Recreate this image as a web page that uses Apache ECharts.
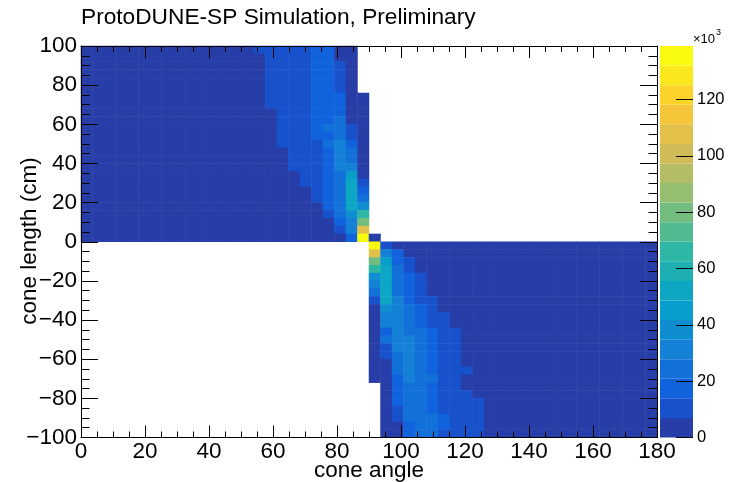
<!DOCTYPE html>
<html><head><meta charset="utf-8">
<script src="https://cdn.jsdelivr.net/npm/echarts@6/dist/echarts.min.js"></script>
<style>html,body{margin:0;padding:0;background:#fff}#c{width:736px;height:482px}</style>
</head><body><div id="c"></div><script>
// ---------------- data ----------------
const titleText = 'ProtoDUNE-SP Simulation, Preliminary';
const xTitle = 'cone angle';
const yTitle = 'cone length (cm)';
const zExponent = '\u00d710';
const xTicks = [0, 20, 40, 60, 80, 100, 120, 140, 160, 180];
const yTicks = [-100, -80, -60, -40, -20, 0, 20, 40, 60, 80, 100];
const zTicks = [0, 20, 40, 60, 80, 100, 120];
const zMax = 139;          // colour scale maximum (x10^3 entries)
const nBands = 20;         // number of colour contours
const nX = 50, xMin = 0, xMax = 180;     // angle bins of 3.6 deg
const nY = 50, yMin = -100, yMax = 100;  // length bins of 4 cm

// Upper half: rows from y = 96..100 down to y = 0..4; values (x10^3) start at angle bin 0
const upperRows = [
 [0.9,0.9,1.0,1.0,1.1,1.1,1.2,1.3,1.4,1.5,1.7,1.9,2.2,2.7,3.5,8.3,10.4,11.2,11.9,12.6,15.8,14.6,5.4,3.0],
 [0.9,1.0,1.0,1.0,1.1,1.2,1.2,1.3,1.4,1.6,1.7,2.0,2.3,2.7,3.3,4.4,10.1,11.0,11.7,12.4,16.3,15.5,5.8,2.9],
 [1.0,1.0,1.0,1.1,1.1,1.2,1.3,1.3,1.4,1.6,1.8,2.0,2.3,2.8,3.4,4.6,10.3,11.1,11.8,12.5,16.8,15.9,9.6,3.2],
 [1.0,1.0,1.1,1.1,1.2,1.2,1.3,1.4,1.5,1.6,1.8,2.0,2.4,2.8,3.5,4.8,10.5,11.2,11.9,12.7,17.0,16.2,10.8,3.4],
 [1.0,1.0,1.1,1.1,1.2,1.3,1.3,1.4,1.5,1.7,1.9,2.1,2.4,2.9,3.6,5.0,10.6,11.3,12.1,12.9,17.2,16.6,11.4,3.6],
 [1.0,1.1,1.1,1.2,1.2,1.3,1.4,1.5,1.6,1.7,1.9,2.1,2.5,3.0,3.7,5.2,10.8,11.5,12.2,13.0,17.5,16.9,12.2,3.8],
 [1.0,1.1,1.1,1.2,1.2,1.3,1.4,1.5,1.6,1.7,1.9,2.2,2.5,3.0,3.8,5.4,11.0,11.6,12.4,13.2,17.7,17.4,14.8,4.0,1.9],
 [1.1,1.1,1.2,1.2,1.3,1.3,1.4,1.5,1.6,1.8,2.0,2.2,2.6,3.1,3.9,5.7,7.8,11.8,12.6,13.4,18.0,17.8,15.6,4.3,2.0],
 [1.1,1.1,1.2,1.2,1.3,1.4,1.4,1.5,1.7,1.8,2.0,2.3,2.6,3.2,4.0,5.0,6.1,11.9,12.7,13.5,18.2,18.3,16.4,4.6,2.1],
 [1.1,1.2,1.2,1.3,1.3,1.4,1.5,1.6,1.7,1.9,2.1,2.3,2.7,3.2,4.0,5.0,6.3,12.0,12.8,13.6,18.5,19.6,22.4,5.3,2.2],
 [1.1,1.2,1.2,1.3,1.4,1.4,1.5,1.6,1.8,1.9,2.1,2.4,2.7,3.3,4.1,5.1,6.4,12.1,12.9,13.7,18.8,21.6,24.0,8.1,2.3],
 [1.2,1.2,1.3,1.3,1.4,1.5,1.6,1.7,1.8,2.0,2.2,2.4,2.8,3.3,4.1,5.2,6.5,12.2,13.0,13.8,17.9,20.3,25.1,9.4,2.5],
 [1.2,1.2,1.3,1.4,1.4,1.5,1.6,1.7,1.8,2.0,2.2,2.5,2.8,3.4,4.2,5.3,6.6,9.5,12.6,13.3,13.6,22.3,29.5,16.8,2.7],
 [1.2,1.3,1.3,1.4,1.5,1.5,1.6,1.7,1.9,2.0,2.2,2.5,2.9,3.4,4.2,5.1,5.9,6.5,11.8,12.9,13.4,19.4,30.8,22.9,2.9],
 [1.2,1.3,1.4,1.4,1.5,1.6,1.6,1.7,1.9,2.0,2.3,2.5,2.9,3.5,4.3,5.2,6.0,6.6,12.0,13.0,13.5,19.8,31.6,24.6,3.1],
 [1.3,1.3,1.4,1.5,1.5,1.6,1.7,1.8,1.9,2.1,2.3,2.6,3.0,3.5,4.3,5.2,6.1,6.7,8.9,13.1,13.6,20.1,32.0,30.4,3.4],
 [1.3,1.4,1.4,1.5,1.6,1.6,1.7,1.8,2.0,2.1,2.3,2.6,3.0,3.6,4.4,5.3,6.1,6.6,6.8,12.4,13.4,19.0,26.5,45.2,3.9],
 [1.3,1.4,1.5,1.5,1.6,1.7,1.8,1.9,2.0,2.2,2.4,2.7,3.1,3.6,4.4,5.3,6.1,6.6,6.9,10.2,13.2,18.6,25.7,51.8,9.8],
 [1.4,1.4,1.5,1.6,1.6,1.7,1.8,1.9,2.1,2.2,2.4,2.7,3.1,3.7,4.5,5.4,6.1,6.6,6.8,6.9,12.8,18.2,25.0,53.4,17.5],
 [1.4,1.5,1.5,1.6,1.7,1.8,1.8,2.0,2.1,2.3,2.5,2.8,3.2,3.7,4.5,5.4,6.1,6.6,6.8,6.9,10.9,17.6,24.4,53.9,25.6],
 [1.4,1.5,1.6,1.6,1.7,1.8,1.9,2.0,2.2,2.3,2.5,2.8,3.2,3.8,4.6,5.4,6.1,6.5,6.7,6.8,6.9,15.8,23.7,52.6,38.9],
 [1.5,1.5,1.6,1.7,1.8,1.8,1.9,2.1,2.2,2.4,2.6,2.9,3.3,3.8,4.6,5.5,6.1,6.5,6.7,6.8,6.9,10.1,22.6,39.0,66.2],
 [1.5,1.6,1.6,1.7,1.8,1.9,2.0,2.1,2.3,2.4,2.6,2.9,3.3,3.9,4.7,5.5,6.1,6.5,6.7,6.8,6.9,6.9,16.4,31.2,80.1],
 [1.5,1.6,1.7,1.8,1.8,1.9,2.0,2.2,2.3,2.5,2.7,3.0,3.4,3.9,4.7,5.5,6.1,6.5,6.7,6.8,6.9,6.9,10.7,29.4,108.0],
 [1.6,1.6,1.7,1.8,1.9,2.0,2.1,2.2,2.4,2.5,2.7,3.0,3.4,4.0,4.8,5.6,6.1,6.5,6.7,6.8,6.9,6.9,6.9,16.9,139.0,5.2]
];
// Lower half: rows from y = -4..0 down to y = -100..-96; values (x10^3) end at angle bin 49
const lowerRows = [
 [134.5,10.2,5.8,4.9,4.2,3.6,3.1,2.7,2.4,2.2,2.0,1.8,1.7,1.6,1.5,1.4,1.3,1.3,1.2,1.2,1.1,1.1,1.0,1.0,1.0],
 [107.6,31.0,15.3,6.2,5.2,4.4,3.8,3.3,2.9,2.5,2.3,2.1,1.9,1.8,1.7,1.6,1.5,1.4,1.3,1.3,1.2,1.2,1.1,1.1,1.0],
 [79.8,45.6,18.1,9.9,6.4,5.4,4.6,3.9,3.4,3.0,2.6,2.4,2.2,2.0,1.9,1.7,1.6,1.5,1.4,1.4,1.3,1.2,1.2,1.1,1.1],
 [66.4,52.1,22.8,11.7,6.6,5.6,4.8,4.1,3.6,3.1,2.7,2.5,2.2,2.0,1.9,1.8,1.7,1.6,1.5,1.4,1.3,1.3,1.2,1.2,1.1],
 [38.3,53.2,24.6,16.2,10.4,6.5,5.6,4.8,4.1,3.5,3.1,2.7,2.4,2.2,2.0,1.9,1.8,1.7,1.6,1.5,1.4,1.3,1.3,1.2,1.2],
 [31.2,53.6,25.4,17.4,11.2,6.6,5.7,4.9,4.2,3.6,3.1,2.8,2.5,2.3,2.1,1.9,1.8,1.7,1.6,1.5,1.4,1.4,1.3,1.2,1.2],
 [24.7,53.0,26.0,18.3,11.8,6.7,5.8,5.0,4.3,3.7,3.2,2.8,2.5,2.3,2.1,2.0,1.8,1.7,1.6,1.5,1.5,1.4,1.3,1.3,1.2],
 [12.0,51.3,28.6,19.5,12.9,9.6,6.2,5.3,4.5,3.9,3.4,3.0,2.6,2.4,2.2,2.0,1.9,1.8,1.7,1.6,1.5,1.4,1.4,1.3,1.2],
 [5.6,39.8,30.5,21.9,14.4,10.7,6.4,5.5,4.7,4.0,3.5,3.1,2.7,2.4,2.2,2.1,1.9,1.8,1.7,1.6,1.5,1.5,1.4,1.3,1.3],
 [4.8,33.6,31.4,22.8,15.3,11.6,8.4,6.2,5.3,4.5,3.9,3.4,3.0,2.7,2.4,2.2,2.1,1.9,1.8,1.7,1.6,1.5,1.4,1.4,1.3],
 [4.3,31.2,32.0,23.6,15.8,12.2,9.1,6.3,5.4,4.6,4.0,3.5,3.0,2.7,2.5,2.3,2.1,2.0,1.8,1.7,1.6,1.5,1.5,1.4,1.3],
 [3.9,17.2,32.5,24.9,22.1,15.1,10.3,8.2,6.1,5.2,4.4,3.8,3.3,2.9,2.6,2.4,2.2,2.0,1.9,1.8,1.7,1.6,1.5,1.4,1.4],
 [3.6,21.3,33.1,28.4,23.5,16.0,10.9,8.8,6.2,5.3,4.5,3.9,3.4,3.0,2.7,2.4,2.2,2.1,1.9,1.8,1.7,1.6,1.5,1.5,1.4],
 [3.4,11.6,30.9,29.2,23.9,16.5,11.3,9.1,6.3,5.4,4.6,4.0,3.5,3.1,2.7,2.5,2.3,2.1,2.0,1.8,1.7,1.6,1.6,1.5,1.4],
 [3.2,9.4,26.8,30.1,24.2,16.9,11.7,9.4,6.4,5.5,4.7,4.1,3.6,3.1,2.8,2.5,2.3,2.2,2.0,1.9,1.8,1.7,1.6,1.5,1.4],
 [3.0,6.1,25.9,30.6,24.6,17.2,12.0,9.6,6.4,5.5,4.8,4.1,3.6,3.2,2.8,2.6,2.4,2.2,2.0,1.9,1.8,1.7,1.6,1.5,1.5],
 [2.9,5.6,23.4,31.0,25.0,17.5,12.3,9.9,8.6,5.6,4.8,4.2,3.7,3.2,2.9,2.6,2.4,2.2,2.1,1.9,1.8,1.7,1.6,1.6,1.5],
 [2.7,5.1,19.2,31.4,25.3,22.2,12.6,10.1,6.5,5.6,4.9,4.2,3.7,3.3,2.9,2.7,2.4,2.3,2.1,2.0,1.8,1.7,1.7,1.6,1.5],
 [4.7,18.6,27.5,25.6,19.8,12.9,10.3,6.6,5.7,4.9,4.3,3.8,3.3,3.0,2.7,2.5,2.3,2.1,2.0,1.9,1.8,1.7,1.6,1.5],
 [4.4,18.1,26.9,25.8,20.1,13.2,10.6,8.1,5.8,5.0,4.4,3.8,3.4,3.0,2.7,2.5,2.3,2.2,2.0,1.9,1.8,1.7,1.6,1.6],
 [4.2,17.5,26.2,26.1,20.4,13.5,10.8,8.9,7.6,5.1,4.5,3.9,3.4,3.1,2.8,2.5,2.4,2.2,2.1,1.9,1.8,1.7,1.7,1.6],
 [4.0,12.4,25.6,26.3,19.7,13.7,11.0,9.2,8.0,5.2,4.6,4.0,3.5,3.1,2.8,2.6,2.4,2.2,2.1,2.0,1.9,1.8,1.7,1.6],
 [3.8,10.1,24.9,26.4,22.3,14.6,11.1,9.4,8.2,5.2,4.6,4.0,3.5,3.2,2.9,2.6,2.4,2.3,2.1,2.0,1.9,1.8,1.7,1.6],
 [3.6,6.2,20.2,25.9,22.8,14.9,11.3,9.6,8.4,5.3,4.7,4.1,3.6,3.2,2.9,2.7,2.5,2.3,2.1,2.0,1.9,1.8,1.7,1.6],
 [3.5,5.8,19.4,25.1,23.0,13.2,11.5,9.7,8.5,5.3,4.7,4.1,3.6,3.2,2.9,2.7,2.5,2.3,2.2,2.0,1.9,1.8,1.7,1.6]
];

// ---------------- build ----------------
const xBinW = (xMax - xMin) / nX, yBinW = (yMax - yMin) / nY;
const xCats = Array.from({length: nX}, (_, i) => (xMin + (i + 0.5) * xBinW).toFixed(1));
const yCats = Array.from({length: nY}, (_, j) => (yMin + (j + 0.5) * yBinW).toFixed(1));
const cells = [];
upperRows.forEach((row, r) => {
  const j = nY - 1 - r;
  row.forEach((v, i) => { if (v != null) cells.push([i, j, v]); });
});
lowerRows.forEach((row, r) => {
  const j = nY / 2 - 1 - r;
  const start = nX - row.length;
  row.forEach((v, k) => { if (v != null) cells.push([start + k, j, v]); });
});

// ROOT kBird palette
const bStops = [0, 0.125, 0.25, 0.375, 0.5, 0.625, 0.75, 0.875, 1];
const bR = [0.2082, 0.0592, 0.0780, 0.0232, 0.1802, 0.5301, 0.8186, 0.9956, 0.9764];
const bG = [0.1664, 0.3599, 0.5041, 0.6419, 0.7178, 0.7492, 0.7328, 0.7862, 0.9832];
const bB = [0.5293, 0.8684, 0.8385, 0.7914, 0.6425, 0.4662, 0.3499, 0.1968, 0.0539];
function bird(t) {
  let s = 0;
  while (s < bStops.length - 2 && t > bStops[s + 1]) s++;
  const f = (t - bStops[s]) / (bStops[s + 1] - bStops[s]);
  const c = a => Math.round(255 * (a[s] + f * (a[s + 1] - a[s])));
  return 'rgb(' + c(bR) + ',' + c(bG) + ',' + c(bB) + ')';
}
const bandColors = Array.from({length: nBands}, (_, k) => bird(Math.floor((k + 0.99) * 255 / nBands) / 254));
const bandW = zMax / nBands;
const pieces = bandColors.map((col, k) => k === nBands - 1
  ? {gte: k * bandW, lte: zMax * 1.01, color: col}
  : {gte: k * bandW, lt: (k + 1) * bandW, color: col});

const FONT = 'Liberation Sans, Arial, Helvetica, sans-serif';
const G = {left: 81, top: 46, width: 576, height: 391.5};
const black = '#000';
const lab = {color: black, fontFamily: FONT, fontSize: 22.5};

function valueAxis(dim, pos, show) {
  const isX = dim === 'x';
  return {
    type: 'value', gridIndex: 1, position: pos,
    min: isX ? xMin : yMin, max: isX ? xMax : yMax, interval: 20,
    axisLine: {show: true, onZero: false, lineStyle: {color: black, width: 1}},
    axisTick: {show: true, inside: true, length: isX ? 12 : 17, lineStyle: {color: black, width: 1}},
    minorTick: {show: true, splitNumber: 4, length: isX ? 6 : 8.5, lineStyle: {color: black, width: 1}},
    splitLine: {show: false},
    axisLabel: show ? Object.assign({}, lab, {margin: isX ? 3 : 4,
      formatter: v => String(v).replace('-', '\u2212')}) : {show: false},
    z: 10
  };
}

const chart = echarts.init(document.getElementById('c'), null, {renderer: 'canvas'});
const barSeries = bandColors.map((col, k) => ({
  type: 'bar', xAxisIndex: 3, yAxisIndex: 3, stack: 'palette', barWidth: '100%',
  data: [bandW], itemStyle: {color: col}, silent: true, animation: false
}));

chart.setOption({
  animation: false,
  backgroundColor: '#fff',
  grid: [
    Object.assign({}, G),
    Object.assign({}, G),
    {left: 660, top: 46, width: 33, height: 391.5}
  ],
  xAxis: [
    {type: 'category', gridIndex: 0, data: xCats, show: false},
    valueAxis('x', 'bottom', true),
    valueAxis('x', 'top', false),
    {type: 'category', gridIndex: 2, data: ['z'], show: false}
  ],
  yAxis: [
    {type: 'category', gridIndex: 0, data: yCats, show: false},
    valueAxis('y', 'left', true),
    valueAxis('y', 'right', false),
    {type: 'value', gridIndex: 2, position: 'right', min: 0, max: zMax,
     axisLine: {show: false},
     axisTick: {show: true, inside: true, length: 17, customValues: zTicks, lineStyle: {color: black}},
     axisLabel: {color: black, fontFamily: FONT, fontSize: 16.5, margin: 4, customValues: zTicks},
     splitLine: {show: false}, z: 10}
  ],
  visualMap: {type: 'piecewise', show: false, seriesIndex: 0, dimension: 2, pieces: pieces},
  series: [{
    type: 'heatmap', xAxisIndex: 0, yAxisIndex: 0, data: cells,
    progressive: 0, emphasis: {disabled: true}, silent: true
  }].concat(barSeries),
  graphic: [
    {type: 'text', x: 81, y: 18, style: {text: titleText, font: '22.7px ' + FONT, fill: black, textAlign: 'left', textVerticalAlign: 'middle'}},
    {type: 'text', x: 369, y: 471, style: {text: xTitle, font: '22.5px ' + FONT, fill: black, textAlign: 'center', textVerticalAlign: 'middle'}},
    {type: 'text', x: 30, y: 241, rotation: Math.PI / 2, style: {text: yTitle, font: '22.5px ' + FONT, fill: black, textAlign: 'center', textVerticalAlign: 'middle'}},
    {type: 'text', x: 693, y: 39, style: {text: zExponent, font: '13px ' + FONT, fill: black, textAlign: 'left', textVerticalAlign: 'middle'}},
    {type: 'text', x: 716, y: 33, style: {text: '3', font: '9px ' + FONT, fill: black, textAlign: 'left', textVerticalAlign: 'middle'}}
  ]
});
</script></body></html>
